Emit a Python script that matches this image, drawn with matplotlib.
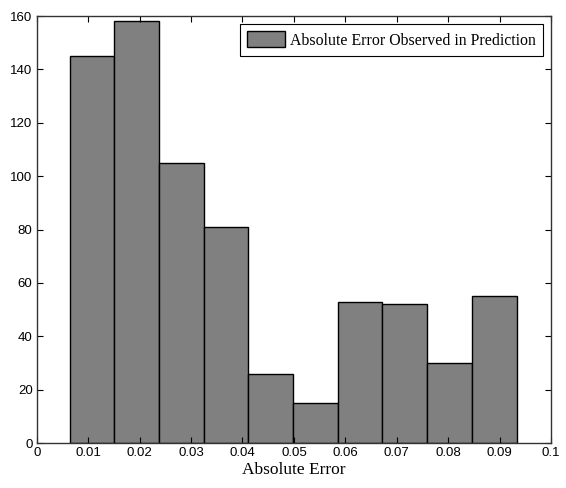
import numpy as np
import matplotlib.pyplot as plt

# histogram counts
counts = [145, 158, 105, 81, 26, 15, 53, 52, 30, 55]
bin_lo, bin_hi = 0.0064, 0.0933
edges = np.linspace(bin_lo, bin_hi, len(counts) + 1)

xticks = [0, 0.01, 0.02, 0.03, 0.04, 0.05, 0.06, 0.07, 0.08, 0.09, 0.1]
xtick_labels = ['0', '0.01', '0.02', '0.03', '0.04', '0.05', '0.06', '0.07', '0.08', '0.09', '0.1']
yticks = [0, 20, 40, 60, 80, 100, 120, 140, 160]

fig = plt.figure(figsize=(5.66, 4.88), dpi=100)
ax = fig.add_axes([0.065, 0.092, 0.9085, 0.875])

ax.bar(edges[:-1], counts, width=np.diff(edges), align='edge',
       color='#808080', edgecolor='black', linewidth=1.0,
       label='Absolute Error Observed in Prediction')

ax.set_xlim(0, 0.1)
ax.set_ylim(0, 160)
ax.set_xticks(xticks)
ax.set_xticklabels(xtick_labels)
ax.set_yticks(yticks)
ax.tick_params(direction='in', top=True, right=True, length=4, width=0.8,
               labelsize=9.5, colors='black', pad=3)
for lab in ax.get_xticklabels() + ax.get_yticklabels():
    lab.set_family('Liberation Sans')
for s in ax.spines.values():
    s.set_color('#333333')
    s.set_linewidth(1.0)

ax.set_xlabel('Absolute Error', family='Liberation Serif', fontsize=12.5, labelpad=2)

leg = ax.legend(loc='upper right', prop={'family': 'Liberation Serif', 'size': 11.4},
                fancybox=False, framealpha=1, edgecolor='black',
                handlelength=2.4, handleheight=1.2, borderaxespad=0.5,
                handletextpad=0.3, borderpad=0.45)
leg.get_frame().set_linewidth(0.8)

plt.savefig('out.png', dpi=100)
